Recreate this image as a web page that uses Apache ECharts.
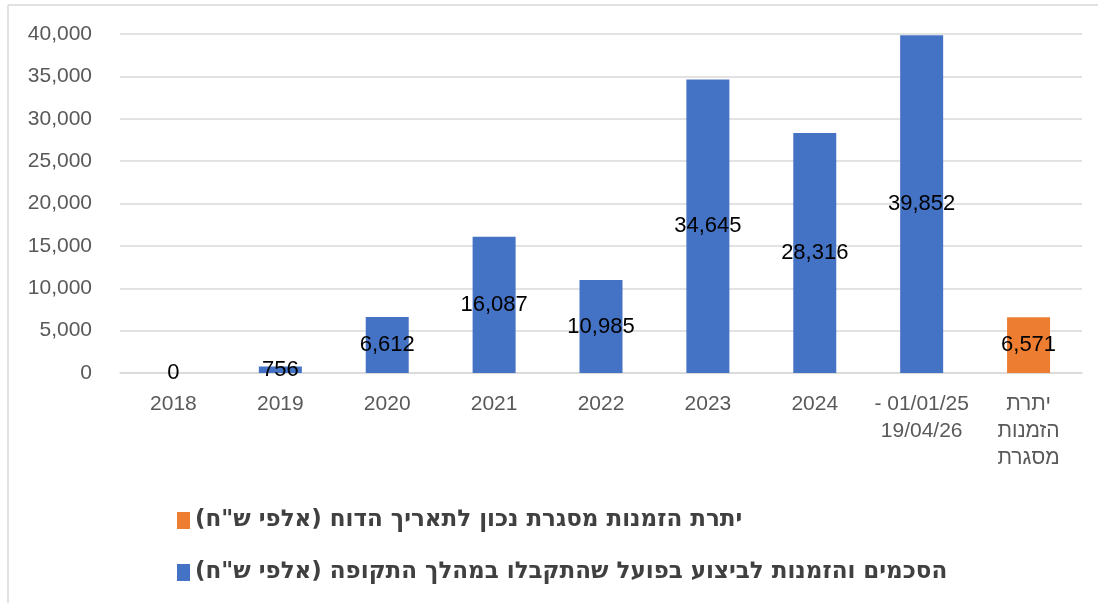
<!DOCTYPE html>
<html lang="he">
<head>
<meta charset="utf-8">
<title>הסכמים והזמנות</title>
<script src="https://cdn.jsdelivr.net/npm/echarts@6/dist/echarts.min.js"></script>
<style>
  html, body { margin: 0; padding: 0; background: #fff; }
  #chart { width: 1098px; height: 603px; }
</style>
</head>
<body>
<div id="chart"></div>
<script>
// categories along the x axis
var categories = ['2018', '2019', '2020', '2021', '2022', '2023', '2024',
    '- 01/01/25\n19/04/26', 'יתרת\nהזמנות\nמסגרת'];
// agreements & orders received in the period (thousand NIS)
var actualValues = [0, 756, 6612, 16087, 10985, 34645, 28316, 39852, '-'];
// framework orders backlog (thousand NIS)
var backlogValues = ['-', '-', '-', '-', '-', '-', '-', '-', 6571];

var actualName = 'הסכמים והזמנות לביצוע בפועל שהתקבלו במהלך התקופה (אלפי ש"ח)\u200F';
var backlogName = 'יתרת הזמנות מסגרת נכון לתאריך הדוח (אלפי ש"ח)\u200F';

var fontFam = '"Liberation Sans", "DejaVu Sans", sans-serif';

var myChart = echarts.init(document.getElementById('chart'));

var labelOpt = {
    show: true,
    position: 'inside',
    color: '#000',
    fontSize: 22,
    fontFamily: fontFam,
    formatter: function (p) { return Number(p.value).toLocaleString('en-US'); }
};

var option = {
    animation: false,
    backgroundColor: '#fff',
    textStyle: { fontFamily: fontFam },
    grid: { left: 120, right: 16, top: 34, bottom: 230 },
    legend: {
        data: [backlogName, actualName],
        orient: 'vertical',
        left: 172,
        top: 504,
        itemWidth: 13,
        itemHeight: 17,
        itemGap: 29,
        icon: 'rect',
        textStyle: { color: '#404040', fontSize: 23, fontWeight: 'bold', fontFamily: '"DejaVu Sans", sans-serif' }
    },
    xAxis: {
        type: 'category',
        data: categories,
        axisLine: { lineStyle: { color: '#d9d9d9', width: 1.5 } },
        axisTick: { show: false },
        axisLabel: { color: '#595959', fontSize: 21, lineHeight: 27, margin: 18, interval: 0 }
    },
    yAxis: {
        type: 'value',
        min: 0,
        max: 40000,
        interval: 5000,
        axisLine: { show: false },
        axisTick: { show: false },
        splitLine: { lineStyle: { color: '#d9d9d9', width: 1.5 } },
        axisLabel: {
            color: '#595959', fontSize: 21, margin: 28,
            formatter: function (v) { return v.toLocaleString('en-US'); }
        }
    },
    series: [
        {
            name: actualName,
            type: 'bar',
            data: actualValues,
            barWidth: 43,
            barGap: '-100%',
            itemStyle: { color: '#4472c4' },
            label: labelOpt
        },
        {
            name: backlogName,
            type: 'bar',
            data: backlogValues,
            barWidth: 43,
            itemStyle: { color: '#ed7d31' },
            label: labelOpt
        }
    ],
    graphic: [
        { type: 'line', shape: { x1: 8, y1: 5, x2: 1098, y2: 5 }, style: { stroke: '#d9d9d9', lineWidth: 1.5 } },
        { type: 'line', shape: { x1: 8, y1: 5, x2: 8, y2: 603 }, style: { stroke: '#d9d9d9', lineWidth: 1.5 } }
    ]
};

myChart.setOption(option);
</script>
</body>
</html>
